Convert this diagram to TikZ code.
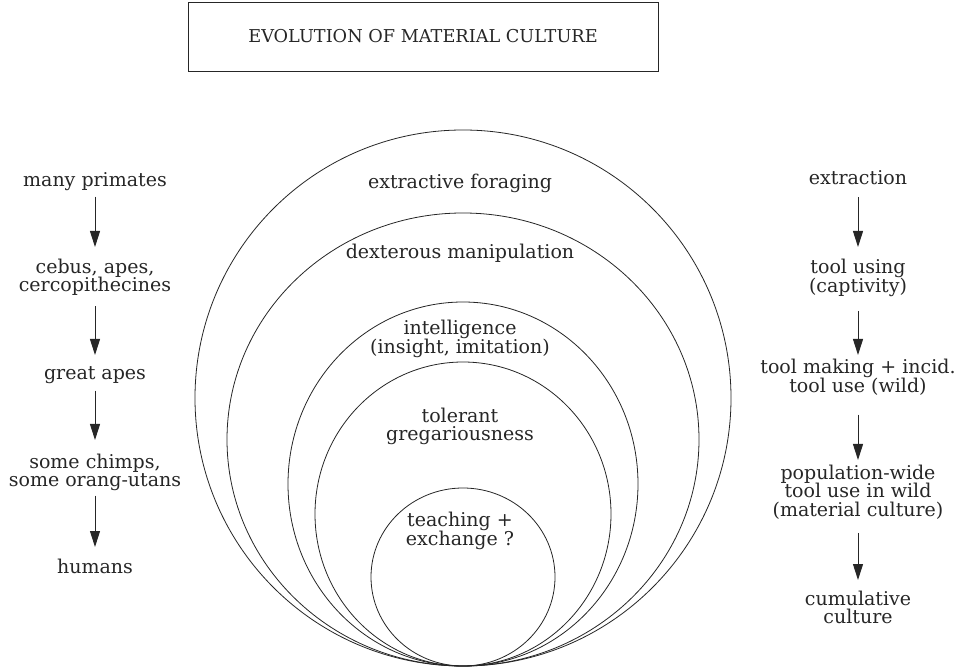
\documentclass[tikz,border=0pt]{standalone}
\usepackage{amsmath,amssymb}
\usepackage{fontspec}
\setmainfont{DejaVu Serif}
\usepackage{tikz}
\usetikzlibrary{arrows.meta}

\tikzset{
  lbl/.style={font=\fontsize{19}{18.5}\selectfont, text=black!85, align=center, inner sep=0pt, anchor=north},
  ring/.style={line width=0.8pt, black!85},
  flow/.style={line width=1pt, black!85, -{Triangle[length=16pt,width=10pt]}, shorten <=6pt, shorten >=11.6pt}
}

\begin{document}
\begin{tikzpicture}[x=1pt,y=-1pt]
  \useasboundingbox (0,0) rectangle (962,668);

  \node[draw=black!85, line width=0.8pt, minimum width=470pt, minimum height=69pt, text=black!85, font=\fontsize{17.7}{18}\selectfont] (title) at (423,36.5) {EVOLUTION OF MATERIAL CULTURE};

  \draw[ring] (463,398) ellipse [x radius=268pt, y radius=268pt];
  \draw[ring] (463,439.5) ellipse [x radius=236pt, y radius=226.5pt];
  \draw[ring] (463,484) ellipse [x radius=175pt, y radius=182pt];
  \draw[ring] (463,514) ellipse [x radius=148pt, y radius=152pt];
  \draw[ring] (463,577) ellipse [x radius=92pt, y radius=89pt];

  \node[lbl] (forage) at (460,173.6) {extractive foraging};
  \node[lbl] (dexter) at (460,243.6) {dexterous manipulation};
  \node[lbl] (intel) at (460,319.6) {intelligence\\(insight, imitation)};
  \node[lbl] (toler) at (460,407.6) {tolerant\\gregariousness};
  \node[lbl] (teach) at (460,511.6) {teaching +\\exchange ?};

  \node[lbl] (many) at (95,172.6) {many primates};
  \node[lbl] (cebus) at (95,258.6) {cebus, apes,\\cercopithecines};
  \node[lbl] (great) at (95,366.6) {great apes};
  \node[lbl] (chimps) at (95,453.6) {some chimps,\\some orang-utans};
  \node[lbl] (humans) at (95,558.6) {humans};

  \draw[flow, shorten <=5.5pt] (many) -- (cebus);
  \draw[flow, shorten <=10.5pt] (cebus) -- (great);
  \draw[flow, shorten <=6.5pt, shorten >=13.6pt] (great) -- (chimps);
  \draw[flow, shorten <=4.5pt] (chimps) -- (humans);

  \node[lbl] (extract) at (858,170.6) {extraction};
  \node[lbl] (using) at (858,258.6) {tool using\\(captivity)};
  \node[lbl] (making) at (858,358.6) {tool making + incid.\\tool use (wild)};
  \node[lbl] (popwide) at (858,464.6) {population-wide\\tool use in wild\\(material culture)};
  \node[lbl] (cumul) at (858,590.6) {cumulative\\culture};

  \draw[flow, shorten <=12pt] (extract) -- (using);
  \draw[flow, shorten <=13.5pt, shorten >=3.6pt] (using) -- (making);
  \draw[flow, shorten <=18.5pt, shorten >=4.6pt] (making) -- (popwide);
  \draw[flow, shorten <=13.5pt, shorten >=10.6pt] (popwide) -- (cumul);

\end{tikzpicture}
\end{document}
